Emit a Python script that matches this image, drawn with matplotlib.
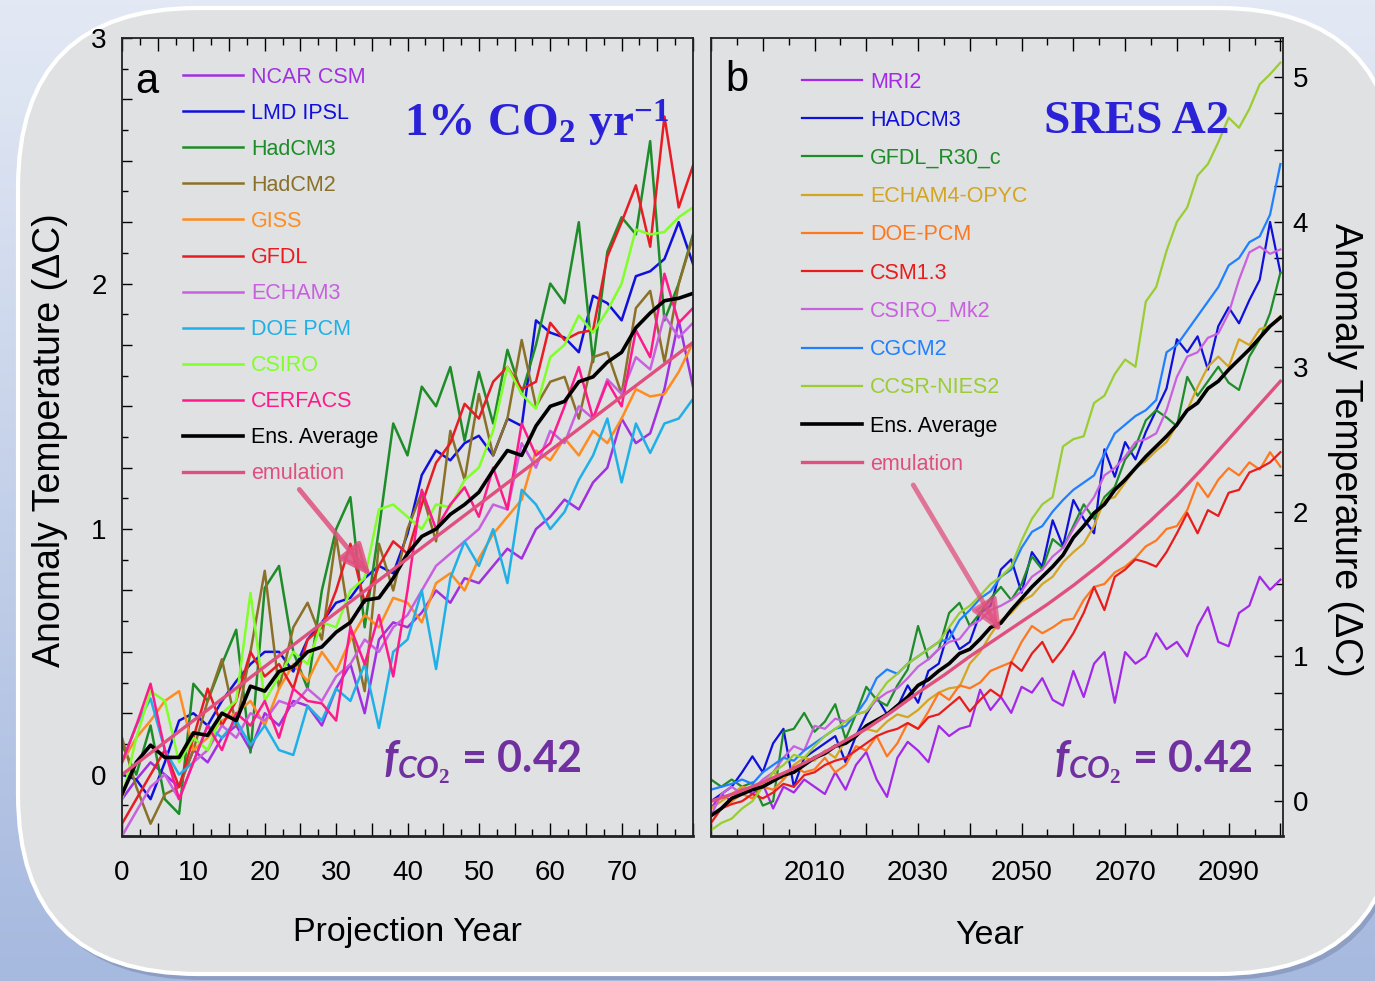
import numpy as np
import matplotlib
matplotlib.use('Agg')
import matplotlib.pyplot as plt
from matplotlib.patches import FancyBboxPatch
from matplotlib.colors import LinearSegmentedColormap
from matplotlib.ticker import MultipleLocator, FuncFormatter

# ---- panel a: 1% CO2 per year runs (projection year 0..80, every 2 years)
year_a = list(range(0, 81, 2))
ncar_a = [-0.1, -0.02, 0.05, 0.0, -0.05, 0.1, 0.05, 0.15, 0.2, 0.1,
          0.25, 0.2, 0.3, 0.28, 0.2, 0.35, 0.45, 0.25, 0.55, 0.62,
          0.6, 0.66, 0.75, 0.7, 0.8, 0.78, 0.85, 0.92, 0.88, 1.0,
          1.05, 1.12, 1.08, 1.19, 1.25, 1.45, 1.35, 1.39, 1.57, 1.85, 1.58]
lmd_a = [0.0, -0.02, -0.1, 0.05, 0.22, 0.25, 0.2, 0.3, 0.38, 0.45,
         0.5, 0.5, 0.42, 0.55, 0.62, 0.7, 0.72, 0.8, 0.85, 0.82,
         0.98, 1.22, 1.32, 1.28, 1.35, 1.38, 1.3, 1.45, 1.42, 1.85,
         1.8, 1.78, 1.72, 1.95, 1.92, 1.85, 2.03, 2.05, 2.1, 2.25, 2.08]
hadcm3_a = [0.12, 0.0, 0.2, -0.1, -0.16, 0.37, 0.3, 0.45, 0.59, 0.09,
            0.76, 0.85, 0.5, 0.35, 0.75, 1.0, 1.13, 0.6, 1.0, 1.43,
            1.3, 1.58, 1.5, 1.66, 1.36, 1.64, 1.43, 1.73, 1.55, 1.75,
            2.0, 1.92, 2.25, 1.68, 2.13, 2.27, 2.2, 2.58, 1.85, 2.0, 2.2]
hadcm2_a = [0.15, -0.05, -0.2, -0.08, -0.05, 0.1, 0.3, 0.47, 0.2, 0.5,
            0.83, 0.35, 0.6, 0.7, 0.55, 0.97, 0.6, 0.34, 0.94, 0.75,
            1.0, 1.15, 0.95, 1.4, 1.2, 1.55, 1.3, 1.45, 1.77, 1.5,
            1.6, 1.62, 1.45, 1.7, 1.72, 1.55, 1.9, 1.97, 1.68, 2.0, 2.19]
giss_a = [0.05, 0.15, 0.22, 0.3, 0.34, 0.1, 0.15, 0.22, 0.25, 0.3,
          0.2, 0.35, 0.45, 0.38, 0.5, 0.42, 0.55, 0.65, 0.6, 0.72,
          0.7, 0.62, 0.78, 0.82, 0.75, 0.88, 0.98, 1.05, 1.12, 1.32,
          1.28, 1.37, 1.3, 1.4, 1.35, 1.45, 1.57, 1.54, 1.55, 1.64, 1.76]
gfdl_a = [-0.2, -0.1, 0.0, 0.1, -0.05, 0.15, 0.35, 0.2, 0.3, 0.5,
          0.4, 0.45, 0.35, 0.55, 0.6, 0.75, 0.94, 0.7, 0.85, 0.95,
          0.9, 1.1, 1.27, 1.35, 1.51, 1.45, 1.6, 1.66, 1.57, 1.6,
          1.84, 1.77, 1.8, 1.81, 2.11, 2.25, 2.4, 2.15, 2.68, 2.31, 2.48]
echam3_a = [-0.25, -0.15, -0.05, 0.0, -0.1, 0.05, 0.1, 0.2, 0.15, 0.25,
            0.22, 0.3, 0.28, 0.35, 0.3, 0.4, 0.45, 0.55, 0.5, 0.6,
            0.65, 0.75, 0.85, 0.9, 0.95, 1.0, 1.1, 1.08, 1.35, 1.25,
            1.4, 1.35, 1.5, 1.45, 1.61, 1.55, 1.7, 1.65, 1.87, 1.78, 1.84]
doe_a = [0.05, 0.2, 0.31, 0.1, 0.0, 0.05, 0.2, 0.15, 0.22, 0.12,
         0.2, 0.1, 0.08, 0.28, 0.22, 0.35, 0.3, 0.45, 0.19, 0.5,
         0.55, 0.75, 0.43, 0.8, 0.95, 0.85, 1.0, 0.78, 1.16, 1.1,
         1.0, 1.07, 1.2, 1.3, 1.45, 1.19, 1.43, 1.31, 1.43, 1.45, 1.53]
csiro_a = [-0.1, 0.15, 0.34, 0.3, 0.05, 0.15, 0.1, 0.25, 0.3, 0.74,
           0.3, 0.4, 0.5, 0.45, 0.62, 0.6, 0.75, 0.8, 1.08, 1.1,
           1.05, 1.0, 1.1, 1.09, 1.2, 1.25, 1.4, 1.66, 1.55, 1.49,
           1.7, 1.75, 1.87, 1.8, 1.89, 2.0, 2.22, 2.2, 2.21, 2.27, 2.31]
cerfacs_a = [0.05, 0.2, 0.37, 0.1, -0.1, 0.05, 0.2, 0.1, 0.25, 0.2,
             0.3, 0.15, 0.35, 0.3, 0.29, 0.22, 0.6, 0.45, 0.65, 0.4,
             0.75, 1.16, 1.0, 1.1, 1.17, 1.05, 1.25, 1.08, 1.43, 1.3,
             1.35, 1.5, 1.66, 1.45, 1.6, 1.5, 1.81, 1.7, 2.04, 1.84, 1.9]
ens_a = [-0.08, 0.05, 0.12, 0.07, 0.07, 0.17, 0.16, 0.25, 0.22, 0.36,
         0.34, 0.42, 0.44, 0.50, 0.52, 0.58, 0.62, 0.71, 0.72, 0.80,
         0.90, 0.97, 1.00, 1.06, 1.10, 1.15, 1.24, 1.32, 1.30, 1.42,
         1.50, 1.52, 1.60, 1.62, 1.68, 1.72, 1.82, 1.88, 1.93, 1.94, 1.96]
emul_year_a = [0, 20, 40, 60, 80]
emul_a = [0.0, 0.44, 0.88, 1.32, 1.76]

names_a = ['NCAR CSM', 'LMD IPSL', 'HadCM3', 'HadCM2', 'GISS', 'GFDL',
           'ECHAM3', 'DOE PCM', 'CSIRO', 'CERFACS']
colors_a = ['#a030e0', '#1010dd', '#1e8c28', '#8a7028', '#ff8c1e', '#e81c24',
            '#c860e0', '#20b0e8', '#80ff28', '#ff1a8c']

# ---- panel b: SRES A2 runs (1990..2100, every 2 years)
year_b = list(range(1990, 2101, 2))
mri_b = [-0.05, 0.05, 0.0, 0.1, 0.05, 0.12, -0.05, 0.1, 0.06, 0.15,
         0.1, 0.05, 0.2, 0.08, 0.25, 0.34, 0.15, 0.03, 0.3, 0.41,
         0.35, 0.27, 0.52, 0.45, 0.5, 0.52, 0.77, 0.63, 0.72, 0.61,
         0.79, 0.75, 0.85, 0.7, 0.66, 0.9, 0.72, 0.95, 1.03, 0.68,
         1.03, 0.95, 1.0, 1.16, 1.05, 1.1, 1.0, 1.21, 1.34, 1.1,
         1.07, 1.3, 1.35, 1.55, 1.46, 1.53]
hadcm3_b = [0.0, 0.05, 0.1, 0.2, 0.31, 0.2, 0.4, 0.5, 0.1, 0.3,
            0.35, 0.4, 0.45, 0.27, 0.45, 0.6, 0.72, 0.6, 0.65, 0.8,
            0.68, 0.9, 0.95, 1.19, 1.05, 1.1, 1.3, 1.35, 1.6, 1.67,
            1.44, 1.72, 1.62, 1.94, 1.76, 2.08, 1.95, 1.85, 2.43, 2.24,
            2.48, 2.36, 2.55, 2.7, 2.85, 3.19, 3.1, 3.21, 2.98, 3.28,
            3.41, 3.3, 3.46, 3.6, 4.0, 3.65]
gfdl_b = [0.15, 0.1, 0.15, 0.1, 0.13, -0.03, 0.0, 0.48, 0.5, 0.61,
          0.48, 0.55, 0.67, 0.43, 0.6, 0.79, 0.7, 0.66, 0.8, 0.91,
          1.21, 0.98, 1.05, 1.3, 1.37, 1.21, 1.3, 1.4, 1.48, 1.39,
          1.5, 1.69, 1.6, 1.81, 1.75, 1.9, 2.05, 1.95, 2.1, 2.17,
          2.36, 2.45, 2.63, 2.7, 2.65, 2.59, 2.93, 2.8, 2.9, 3.0,
          2.89, 2.84, 3.07, 3.19, 3.37, 3.65]
echam4_b = [-0.05, 0.0, 0.05, 0.1, 0.08, 0.12, 0.2, 0.15, 0.25, 0.3,
            0.28, 0.35, 0.3, 0.42, 0.45, 0.5, 0.48, 0.55, 0.6, 0.58,
            0.63, 0.7, 0.75, 0.78, 0.79, 0.95, 1.03, 1.15, 1.25, 1.3,
            1.38, 1.42, 1.5, 1.55, 1.65, 1.72, 1.78, 1.9, 2.08, 2.1,
            2.2, 2.3, 2.35, 2.42, 2.48, 2.6, 2.7, 2.86, 3.0, 3.07,
            3.0, 3.19, 3.15, 3.26, 3.28, 3.35]
doe_b = [-0.1, -0.05, 0.0, 0.05, 0.02, 0.1, 0.08, 0.15, 0.24, 0.2,
         0.22, 0.3, 0.2, 0.25, 0.38, 0.35, 0.45, 0.31, 0.4, 0.54,
         0.5, 0.62, 0.75, 0.7, 0.8, 0.78, 0.82, 0.9, 0.93, 0.96,
         1.1, 1.21, 1.16, 1.2, 1.25, 1.26, 1.39, 1.48, 1.5, 1.58,
         1.62, 1.68, 1.76, 1.8, 1.88, 1.9, 2.01, 2.2, 2.1, 2.22,
         2.3, 2.25, 2.34, 2.29, 2.41, 2.31]
csm_b = [-0.15, -0.05, -0.02, 0.0, 0.05, 0.02, 0.06, 0.12, 0.1, 0.18,
         0.2, 0.25, 0.28, 0.3, 0.35, 0.4, 0.45, 0.48, 0.5, 0.54,
         0.5, 0.58, 0.6, 0.66, 0.72, 0.62, 0.7, 0.77, 0.72, 0.96,
         0.9, 1.02, 1.1, 0.96, 1.05, 1.16, 1.3, 1.48, 1.32, 1.55,
         1.6, 1.67, 1.65, 1.62, 1.72, 1.85, 1.99, 1.85, 2.01, 1.97,
         2.13, 2.15, 2.27, 2.3, 2.34, 2.41]
csiro_b = [-0.1, 0.05, 0.1, 0.05, 0.08, 0.15, 0.2, 0.3, 0.38, 0.35,
           0.52, 0.5, 0.57, 0.55, 0.6, 0.62, 0.7, 0.75, 0.78, 0.85,
           0.93, 0.98, 1.05, 1.1, 1.12, 1.21, 1.25, 1.32, 1.35, 1.39,
           1.45, 1.55, 1.6, 1.69, 1.75, 1.88, 2.0, 2.1, 2.25, 2.3,
           2.38, 2.48, 2.5, 2.54, 2.7, 2.93, 3.07, 3.1, 3.2, 3.23,
           3.37, 3.6, 3.79, 3.83, 3.78, 3.81]
cgcm2_b = [0.08, 0.1, 0.12, 0.15, 0.12, 0.2, 0.25, 0.3, 0.28, 0.35,
           0.4, 0.45, 0.5, 0.52, 0.6, 0.7, 0.85, 0.91, 0.88, 0.95,
           1.0, 1.05, 1.1, 1.12, 1.25, 1.32, 1.4, 1.45, 1.55, 1.6,
           1.75, 1.86, 1.9, 2.0, 2.08, 2.15, 2.2, 2.25, 2.4, 2.54,
           2.6, 2.66, 2.7, 2.77, 3.1, 3.15, 3.25, 3.35, 3.45, 3.55,
           3.7, 3.75, 3.86, 3.9, 4.05, 4.4]
ccsr_b = [-0.2, -0.15, -0.12, -0.05, 0.0, 0.1, 0.2, 0.25, 0.32, 0.3,
          0.38, 0.45, 0.5, 0.55, 0.6, 0.62, 0.72, 0.82, 0.88, 0.95,
          1.0, 1.05, 1.1, 1.2, 1.3, 1.35, 1.42, 1.5, 1.55, 1.62,
          1.8, 1.95, 2.05, 2.1, 2.45, 2.5, 2.52, 2.75, 2.8, 2.95,
          3.05, 3.0, 3.45, 3.55, 3.8, 4.0, 4.1, 4.32, 4.4, 4.55,
          4.72, 4.65, 4.78, 4.95, 5.02, 5.1]
ens_b = [-0.1, -0.05, 0.02, 0.05, 0.08, 0.1, 0.14, 0.18, 0.2, 0.25,
         0.3, 0.33, 0.38, 0.4, 0.45, 0.52, 0.56, 0.6, 0.66, 0.72,
         0.8, 0.84, 0.9, 0.95, 1.02, 1.05, 1.12, 1.2, 1.23, 1.32,
         1.4, 1.48, 1.55, 1.62, 1.7, 1.82, 1.9, 1.99, 2.05, 2.15,
         2.22, 2.3, 2.38, 2.45, 2.52, 2.6, 2.7, 2.75, 2.85, 2.9,
         2.98, 3.05, 3.12, 3.2, 3.28, 3.34]
emul_year_b = list(range(1990, 2101, 5))
emul_b = [0.0, 0.06, 0.13, 0.21, 0.3, 0.4, 0.5, 0.62, 0.75, 0.87, 1.0, 1.12,
          1.24, 1.36, 1.49, 1.63, 1.78, 1.94, 2.11, 2.3, 2.5, 2.7, 2.9]

names_b = ['MRI2', 'HADCM3', 'GFDL_R30_c', 'ECHAM4-OPYC', 'DOE-PCM', 'CSM1.3',
           'CSIRO_Mk2', 'CGCM2', 'CCSR-NIES2']
colors_b = ['#a428e8', '#1010dd', '#1e8c28', '#d4a520', '#ff7820', '#e81c1c',
            '#c860e0', '#2080ff', '#9acd32']

EMUL_COLOR = '#e0507e'
TITLE_BLUE = '#2b22d8'
F_PURPLE = '#7030a0'

W, H = 1375, 981

plt.rcParams['font.family'] = ['Liberation Sans', 'DejaVu Sans']
plt.rcParams['mathtext.fontset'] = 'custom'
plt.rcParams['mathtext.rm'] = 'Liberation Serif:bold'
plt.rcParams['mathtext.it'] = 'Lato:italic:bold'
plt.rcParams['mathtext.bf'] = 'Lato:bold'


def fx(x):
    return x / W


def fy(y):
    return 1 - y / H


def draw_background(fig):
    bg = fig.add_axes([0, 0, 1, 1], zorder=0)
    bg.set_xlim(0, W)
    bg.set_ylim(H, 0)
    bg.axis('off')
    cmap = LinearSegmentedColormap.from_list('bg', ['#e3e9f4', '#a6b9df'])
    grad = np.linspace(0, 1, 256).reshape(-1, 1)
    bg.imshow(grad, extent=[0, W, H, 0], aspect='auto', cmap=cmap)
    shadow = FancyBboxPatch((22, 13), 1380, 967, boxstyle='round,pad=0,rounding_size=180',
                            fc='#7d8db0', ec='none', alpha=0.6)
    bg.add_patch(shadow)
    panel = FancyBboxPatch((18, 8), 1380, 966, boxstyle='round,pad=0,rounding_size=180',
                           fc='#dfe1e2', ec='white', lw=3)
    bg.add_patch(panel)


def style_axes(ax):
    ax.set_facecolor('none')
    for sp in ax.spines.values():
        sp.set_color('#222222')
        sp.set_linewidth(1.3)
    ax.spines['bottom'].set_linewidth(2)


def plot_panel_a(ax):
    for name, vals, col in zip(names_a, [ncar_a, lmd_a, hadcm3_a, hadcm2_a, giss_a, gfdl_a,
                                         echam3_a, doe_a, csiro_a, cerfacs_a], colors_a):
        ax.plot(year_a, vals, color=col, lw=1.8, label=name)
    ax.plot(year_a, ens_a, color='black', lw=2.6, label='Ens. Average')
    ax.plot(emul_year_a, emul_a, color=EMUL_COLOR, lw=2.4, label='emulation')
    ax.set_xlim(0, 80)
    ax.set_ylim(-0.25, 3.0)
    style_axes(ax)

    ax.xaxis.set_major_locator(MultipleLocator(5))
    ax.xaxis.set_minor_locator(MultipleLocator(2.5))
    ax.xaxis.set_major_formatter(FuncFormatter(
        lambda v, p: f'{int(round(v))}' if abs(v % 10) < 1e-6 and v < 75 else ''))
    ax.yaxis.set_major_locator(MultipleLocator(0.25))
    ax.yaxis.set_minor_locator(MultipleLocator(0.125))
    ax.yaxis.set_major_formatter(FuncFormatter(
        lambda v, p: f'{int(round(v))}' if abs(v - round(v)) < 1e-6 else ''))
    ax.tick_params(axis='x', which='both', direction='in', top=True, bottom=True, width=1)
    ax.tick_params(axis='x', which='major', length=9.5, pad=17, labelsize=20)
    ax.tick_params(axis='x', which='minor', length=5)
    ax.tick_params(axis='y', which='both', direction='in', left=True, right=False, width=1)
    ax.tick_params(axis='y', which='major', length=7.5, pad=11, labelsize=20)
    ax.tick_params(axis='y', which='minor', length=4.5)

    ax.legend(loc='upper left', bbox_to_anchor=(0.107, 0.964), frameon=False, fontsize=15.5,
              handlelength=2.8, handletextpad=0.37, labelspacing=0.70, borderaxespad=0,
              borderpad=0, labelcolor='linecolor')
    ax.annotate('', xy=(35.1, 0.80), xytext=(24.6, 1.17),
                arrowprops=dict(arrowstyle='-|>,head_length=0.8,head_width=0.35', lw=3.5,
                                color=EMUL_COLOR, alpha=0.85, mutation_scale=24))


def plot_panel_b(ax):
    for name, vals, col in zip(names_b, [mri_b, hadcm3_b, gfdl_b, echam4_b, doe_b, csm_b,
                                         csiro_b, cgcm2_b, ccsr_b], colors_b):
        ax.plot(year_b, vals, color=col, lw=1.6, label=name)
    ax.plot(year_b, ens_b, color='black', lw=2.6, label='Ens. Average')
    ax.plot(emul_year_b, emul_b, color=EMUL_COLOR, lw=2.4, label='emulation')
    ax.set_xlim(1990, 2100.5)
    ax.set_ylim(-0.24, 5.27)
    style_axes(ax)

    ax.xaxis.set_major_locator(MultipleLocator(10))
    ax.xaxis.set_minor_locator(MultipleLocator(5))
    ax.xaxis.set_major_formatter(FuncFormatter(
        lambda v, p: f'{int(round(v))}' if int(round(v)) % 20 == 10 and v > 2000 else ''))
    ax.yaxis.set_major_locator(MultipleLocator(0.25))
    ax.yaxis.set_major_formatter(FuncFormatter(
        lambda v, p: f'{int(round(v))}' if abs(v - round(v)) < 1e-6 else ''))
    ax.yaxis.tick_right()
    ax.tick_params(axis='x', which='both', direction='in', top=True, bottom=True, width=1)
    ax.tick_params(axis='x', which='major', length=9.5, pad=17, labelsize=20)
    ax.tick_params(axis='x', which='minor', length=5)
    ax.tick_params(axis='y', which='major', direction='in', left=False, right=True,
                   labelleft=False, labelright=True, length=6.5, width=1, pad=7, labelsize=20)

    ax.legend(loc='upper left', bbox_to_anchor=(0.159, 0.958), frameon=False, fontsize=15.5,
              handlelength=2.8, handletextpad=0.37, labelspacing=0.80, borderaxespad=0,
              borderpad=0, labelcolor='linecolor')
    ax.annotate('', xy=(2046.3, 1.15), xytext=(2028.8, 2.2),
                arrowprops=dict(arrowstyle='-|>,head_length=0.8,head_width=0.35', lw=3.5,
                                color=EMUL_COLOR, alpha=0.75, mutation_scale=24))


def add_texts(fig):
    ylab = 'Anomaly Temperature (\u0394C)'
    fig.text(fx(50), fy(440), ylab, rotation=90, fontsize=27, ha='center', va='center')
    fig.text(fx(1345), fy(450), ylab, rotation=-90, fontsize=27, ha='center', va='center')
    fig.text(fx(407), fy(932), 'Projection Year', fontsize=24.5, ha='center', va='center')
    fig.text(fx(990), fy(935), 'Year', fontsize=24.5, ha='center', va='center')
    fig.text(fx(147), fy(82), 'a', fontsize=30, ha='center', va='center')
    fig.text(fx(737), fy(80), 'b', fontsize=30, ha='center', va='center')
    fig.text(fx(537), fy(123), r'$\mathrm{1\%\ CO_2\ yr^{-1}}$', fontsize=34,
             color=TITLE_BLUE, ha='center', va='center')
    fig.text(fx(1137), fy(122), 'SRES A2', family='Liberation Serif', weight='bold',
             fontsize=34, color=TITLE_BLUE, ha='center', va='center')
    ftxt = r'$\mathit{f}_{\mathit{CO}_{\mathit{2}}}$ = 0.42'
    fig.text(fx(482), fy(762), ftxt, family='Lato', weight='bold', fontsize=31,
             color=F_PURPLE, ha='center', va='center')
    fig.text(fx(1153), fy(762), ftxt, family='Lato', weight='bold', fontsize=31,
             color=F_PURPLE, ha='center', va='center')


if __name__ == '__main__':
    fig = plt.figure(figsize=(W / 100, H / 100), dpi=100)
    draw_background(fig)
    ax1 = fig.add_axes([fx(122), fy(836), 571 / W, 798 / H], zorder=1)
    ax2 = fig.add_axes([fx(711), fy(836), 572 / W, 798 / H], zorder=1)
    plot_panel_a(ax1)
    plot_panel_b(ax2)
    add_texts(fig)
    fig.savefig('out.png', dpi=100)
